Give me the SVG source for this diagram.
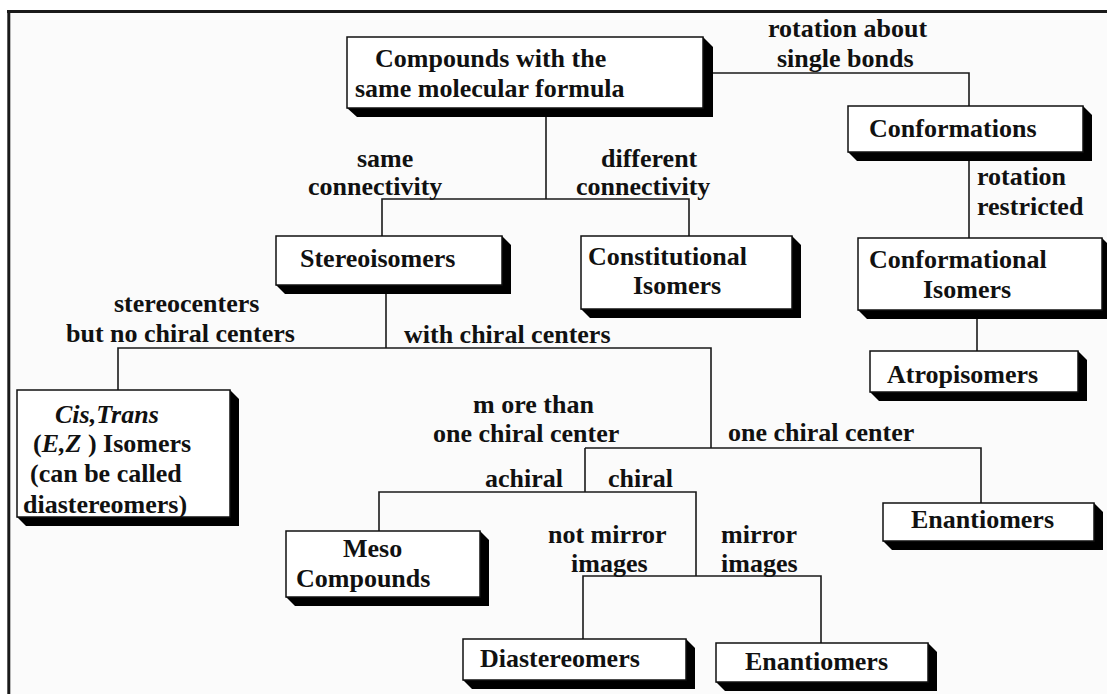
<svg xmlns="http://www.w3.org/2000/svg" width="1107" height="694" viewBox="0 0 1107 694">
  <style>
    .lbl { font-family: "Liberation Serif", "Times New Roman", serif; font-size: 26px; font-weight: bold; fill: #111; }
    .it { font-style: italic; }
    .box { fill: #ffffff; stroke: #111; stroke-width: 1.5; }
    .shadow { fill: #000; }
    .wire { fill: none; stroke: #1a1a1a; stroke-width: 1.6; }
  </style>

  <!-- page and frame -->
  <rect x="0" y="0" width="1107" height="694" fill="#ffffff"/>
  <rect x="9" y="11" width="1098" height="683" fill="#fbfbfb"/>
  <line x1="7" y1="11.5" x2="1107" y2="11.5" stroke="#1a1a1a" stroke-width="3"/>
  <line x1="8.8" y1="10" x2="8.8" y2="694" stroke="#1a1a1a" stroke-width="3"/>

  <!-- connectors -->
  <g id="connectors" class="wire">
    <path d="M713,73 H969 V106"/>
    <path d="M969,152 V238"/>
    <path d="M977,319 V351"/>
    <path d="M546,117 V199"/>
    <path d="M382,236 V199 H689 V236"/>
    <path d="M386,294 V348"/>
    <path d="M118,390 V348 H711 V448"/>
    <path d="M585,448 H981 V503"/>
    <path d="M585,448 V492"/>
    <path d="M379,531 V492 H696 V576"/>
    <path d="M583,639 V576 H821 V643"/>
  </g>

  <!-- edge labels -->
  <g id="labels">
    <text class="lbl" x="768" y="37">rotation about</text>
    <text class="lbl" x="777" y="67">single bonds</text>
    <text class="lbl" x="977" y="185">rotation</text>
    <text class="lbl" x="977" y="215">restricted</text>
    <text class="lbl" x="357" y="167">same</text>
    <text class="lbl" x="308" y="195">connectivity</text>
    <text class="lbl" x="601" y="167">different</text>
    <text class="lbl" x="576" y="195">connectivity</text>
    <text class="lbl" x="114" y="312">stereocenters</text>
    <text class="lbl" x="66" y="342">but no chiral centers</text>
    <text class="lbl" x="404" y="343">with chiral centers</text>
    <text class="lbl" x="473" y="413">m ore than</text>
    <text class="lbl" x="433" y="442">one chiral center</text>
    <text class="lbl" x="728" y="441">one chiral center</text>
    <text class="lbl" x="485" y="487">achiral</text>
    <text class="lbl" x="608" y="487">chiral</text>
    <text class="lbl" x="548" y="543">not mirror</text>
    <text class="lbl" x="571" y="572">images</text>
    <text class="lbl" x="721" y="543">mirror</text>
    <text class="lbl" x="721" y="572">images</text>
  </g>

  <!-- nodes: shadow polygon + face -->
  <g id="compounds">
    <polygon class="shadow" points="703,37 713,47 713,117 357,117 347,108"/>
    <rect class="box" x="347" y="37" width="356" height="71"/>
    <text class="lbl" x="375" y="67">Compounds with the</text>
    <text class="lbl" x="355" y="97">same molecular formula</text>
  </g>

  <g id="conformations">
    <polygon class="shadow" points="1083,106 1092,115 1092,161 857,161 848,152"/>
    <rect class="box" x="848" y="106" width="235" height="46"/>
    <text class="lbl" x="869" y="137">Conformations</text>
  </g>

  <g id="conformational-isomers">
    <polygon class="shadow" points="1102,238 1111,247 1111,319 867,319 858,310"/>
    <rect class="box" x="858" y="238" width="244" height="72"/>
    <text class="lbl" x="869" y="268">Conformational</text>
    <text class="lbl" x="923" y="298">Isomers</text>
  </g>

  <g id="atropisomers">
    <polygon class="shadow" points="1078,351 1087,360 1087,401 879,401 870,392"/>
    <rect class="box" x="870" y="351" width="208" height="41"/>
    <text class="lbl" x="887" y="383">Atropisomers</text>
  </g>

  <g id="stereoisomers">
    <polygon class="shadow" points="502,236 511,245 511,294 285,294 276,285"/>
    <rect class="box" x="276" y="236" width="226" height="49"/>
    <text class="lbl" x="300" y="267">Stereoisomers</text>
  </g>

  <g id="constitutional-isomers">
    <polygon class="shadow" points="792,236 801,245 801,318 590,318 581,309"/>
    <rect class="box" x="581" y="236" width="211" height="73"/>
    <text class="lbl" x="588" y="265">Constitutional</text>
    <text class="lbl" x="633" y="294">Isomers</text>
  </g>

  <g id="cis-trans">
    <polygon class="shadow" points="230,390 239,399 239,526 26,526 17,517"/>
    <rect class="box" x="17" y="390" width="213" height="127"/>
    <text class="lbl it" x="55" y="423">Cis,Trans</text>
    <text class="lbl" x="33" y="452">(<tspan class="it">E,Z</tspan> ) Isomers</text>
    <text class="lbl" x="30" y="482">(can be called</text>
    <text class="lbl" x="23" y="513">diastereomers)</text>
  </g>

  <g id="meso">
    <polygon class="shadow" points="480,531 489,540 489,606 295,606 286,597"/>
    <rect class="box" x="286" y="531" width="194" height="66"/>
    <text class="lbl" x="343" y="557">Meso</text>
    <text class="lbl" x="296" y="587">Compounds</text>
  </g>

  <g id="diastereomers">
    <polygon class="shadow" points="686,639 695,648 695,689 472,689 463,680"/>
    <rect class="box" x="463" y="639" width="223" height="41"/>
    <text class="lbl" x="480" y="667">Diastereomers</text>
  </g>

  <g id="enantiomers-mirror">
    <polygon class="shadow" points="928,643 937,652 937,691 725,691 716,682"/>
    <rect class="box" x="716" y="643" width="212" height="39"/>
    <text class="lbl" x="745" y="670">Enantiomers</text>
  </g>

  <g id="enantiomers-single">
    <polygon class="shadow" points="1094,503 1103,512 1103,550 892,550 883,541"/>
    <rect class="box" x="883" y="503" width="211" height="38"/>
    <text class="lbl" x="911" y="528">Enantiomers</text>
  </g>
</svg>
